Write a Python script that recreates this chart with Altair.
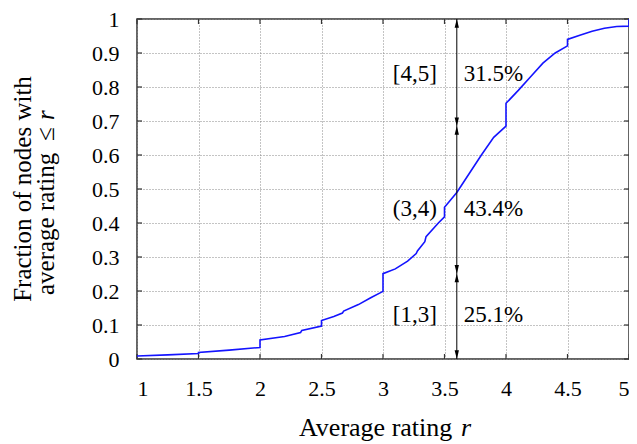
import altair as alt
import pandas as pd

# CDF curve (average rating r, fraction of nodes with avg rating <= r)
r_vals = [1.0, 1.25, 1.5, 1.5, 1.75, 2.0, 2.0, 2.2, 2.33, 2.34, 2.5, 2.5, 2.6, 2.67, 2.68,
          2.8, 2.9, 3.0, 3.0, 3.1, 3.2, 3.27, 3.28, 3.34, 3.35, 3.45, 3.5, 3.5, 3.6, 3.7,
          3.8, 3.9, 4.0, 4.0, 4.1, 4.2, 4.3, 4.4, 4.5, 4.5, 4.6, 4.7, 4.8, 4.9, 5.0, 5.0]
f_vals = [0.009, 0.012, 0.016, 0.019, 0.026, 0.034, 0.056, 0.066, 0.078, 0.084, 0.097, 0.113, 0.125, 0.135, 0.141,
          0.160, 0.180, 0.199, 0.251, 0.265, 0.288, 0.310, 0.318, 0.345, 0.360, 0.400, 0.418, 0.446, 0.490, 0.545,
          0.600, 0.652, 0.685, 0.752, 0.790, 0.830, 0.870, 0.900, 0.921, 0.940, 0.952, 0.964, 0.973, 0.978, 0.979, 1.0]

# annotation: interval boundaries and labels
arrow_r = 3.6
bounds = [0.0, 0.251, 0.685, 1.0]
range_labels = ["[1,3]", "(3,4)", "[4,5]"]
pct_labels = ["25.1%", "43.4%", "31.5%"]
label_y = [0.129, 0.441, 0.838]

x_ticks = [1, 1.5, 2, 2.5, 3, 3.5, 4, 4.5, 5]
y_ticks = [0, 0.1, 0.2, 0.3, 0.4, 0.5, 0.6, 0.7, 0.8, 0.9, 1]

# axis titles (pieces, so the variable r can be italic)
x_title = ["Average rating", "r"]
y_title_1 = "Fraction of nodes with"
y_title_2 = ["average rating", "≤", "r"]

FONT = "Liberation Serif"
FRAME = "#333"
TICK = 5

curve = pd.DataFrame({"r": r_vals, "f": f_vals, "i": list(range(len(r_vals)))})

xs = alt.Scale(domain=[1, 5], nice=False, zero=False)
ys = alt.Scale(domain=[0, 1], nice=False)
x_axis = alt.Axis(values=x_ticks, format="~g", labelOverlap=False, title=None)
y_axis = alt.Axis(values=y_ticks, format="~g", labelOverlap=False, title=None)


def X(field):
    return alt.X(field, type="quantitative", scale=xs, axis=x_axis)


def Y(field):
    return alt.Y(field, type="quantitative", scale=ys, axis=y_axis)


# inward tick marks on all four sides of the frame
xt_df = pd.DataFrame({"r": x_ticks})
yt_df = pd.DataFrame({"y": y_ticks})
PLOT_W, PLOT_H = 492, 340
tick_bottom = alt.Chart(xt_df).mark_rule(color=FRAME, strokeWidth=1.2).encode(
    x=X("r"), y=alt.value(PLOT_H), y2=alt.value(PLOT_H - TICK))
tick_top = alt.Chart(xt_df).mark_rule(color=FRAME, strokeWidth=1.2).encode(
    x=X("r"), y=alt.value(0), y2=alt.value(TICK))
tick_left = alt.Chart(yt_df).mark_rule(color=FRAME, strokeWidth=1.2).encode(
    y=Y("y"), x=alt.value(0), x2=alt.value(TICK))
tick_right = alt.Chart(yt_df).mark_rule(color=FRAME, strokeWidth=1.2).encode(
    y=Y("y"), x=alt.value(PLOT_W), x2=alt.value(PLOT_W - TICK))

line = alt.Chart(curve).mark_line(color="#1414ff", strokeWidth=1.6).encode(
    x=X("r"), y=Y("f"), order="i:Q")

rule_df = pd.DataFrame({"r": [arrow_r], "y0": [bounds[0]], "y1": [bounds[-1]]})
rule = alt.Chart(rule_df).mark_rule(color="black", strokeWidth=1).encode(
    x=X("r"), y=Y("y0"), y2="y1:Q")

up_shape = "M0,0 L-0.25,1 L0.25,1 Z"
down_shape = "M0,0 L-0.25,-1 L0.25,-1 Z"
up_df = pd.DataFrame({"r": [arrow_r] * 3, "y": bounds[1:]})
down_df = pd.DataFrame({"r": [arrow_r] * 3, "y": bounds[:-1]})
up = alt.Chart(up_df).mark_point(shape=up_shape, filled=True, color="black", opacity=1, size=300, strokeWidth=0).encode(
    x=X("r"), y=Y("y"))
down = alt.Chart(down_df).mark_point(shape=down_shape, filled=True, color="black", opacity=1, size=300, strokeWidth=0).encode(
    x=X("r"), y=Y("y"))

lab_df = pd.DataFrame({"r": [arrow_r] * 3, "y": label_y, "rng": range_labels, "pct": pct_labels})
left_txt = alt.Chart(lab_df).mark_text(align="right", baseline="middle", dx=-20, font=FONT, fontSize=23, color="black").encode(
    x=X("r"), y=Y("y"), text="rng:N")
right_txt = alt.Chart(lab_df).mark_text(align="left", baseline="middle", dx=7, font=FONT, fontSize=23, color="black").encode(
    x=X("r"), y=Y("y"), text="pct:N")


def title_piece(text, x, y, align, angle=0, italic=False, size=26):
    return alt.Chart(pd.DataFrame({"t": [text]})).mark_text(
        align=align, baseline="alphabetic", angle=angle, font=FONT, fontSize=size,
        fontStyle="italic" if italic else "normal", color="black",
    ).encode(x=alt.value(x), y=alt.value(y), text="t:N")


titles = [
    title_piece(x_title[0], 162, 417, "left"),
    title_piece(x_title[1], 324, 417, "left", italic=True),
    title_piece(y_title_1, -106, 170, "center", angle=270, size=25),
    title_piece(y_title_2[0], -83, 276, "left", angle=270, size=25),
    title_piece(y_title_2[1], -83, 122, "left", angle=270, size=25),
    title_piece(y_title_2[2], -83, 101, "left", angle=270, italic=True, size=25),
]

chart = alt.layer(tick_bottom, tick_top, tick_left, tick_right, line, rule, up, down,
                  left_txt, right_txt, *titles).properties(
    width=PLOT_W, height=PLOT_H,
    autosize=alt.AutoSizeParams(type="none"),
    padding={"left": 129, "top": 11, "right": 0, "bottom": 84},
).configure_view(stroke=FRAME, strokeWidth=1.5).configure_axis(
    domain=False, ticks=False, grid=True, gridColor="#888", gridDash=[1, 2], gridWidth=1,
    labelFont=FONT, labelFontSize=22, labelColor="black", labelPadding=18,
).configure_axisX(labelPadding=19)

chart.save("out.html", embed_options={"renderer": "svg", "actions": False})
